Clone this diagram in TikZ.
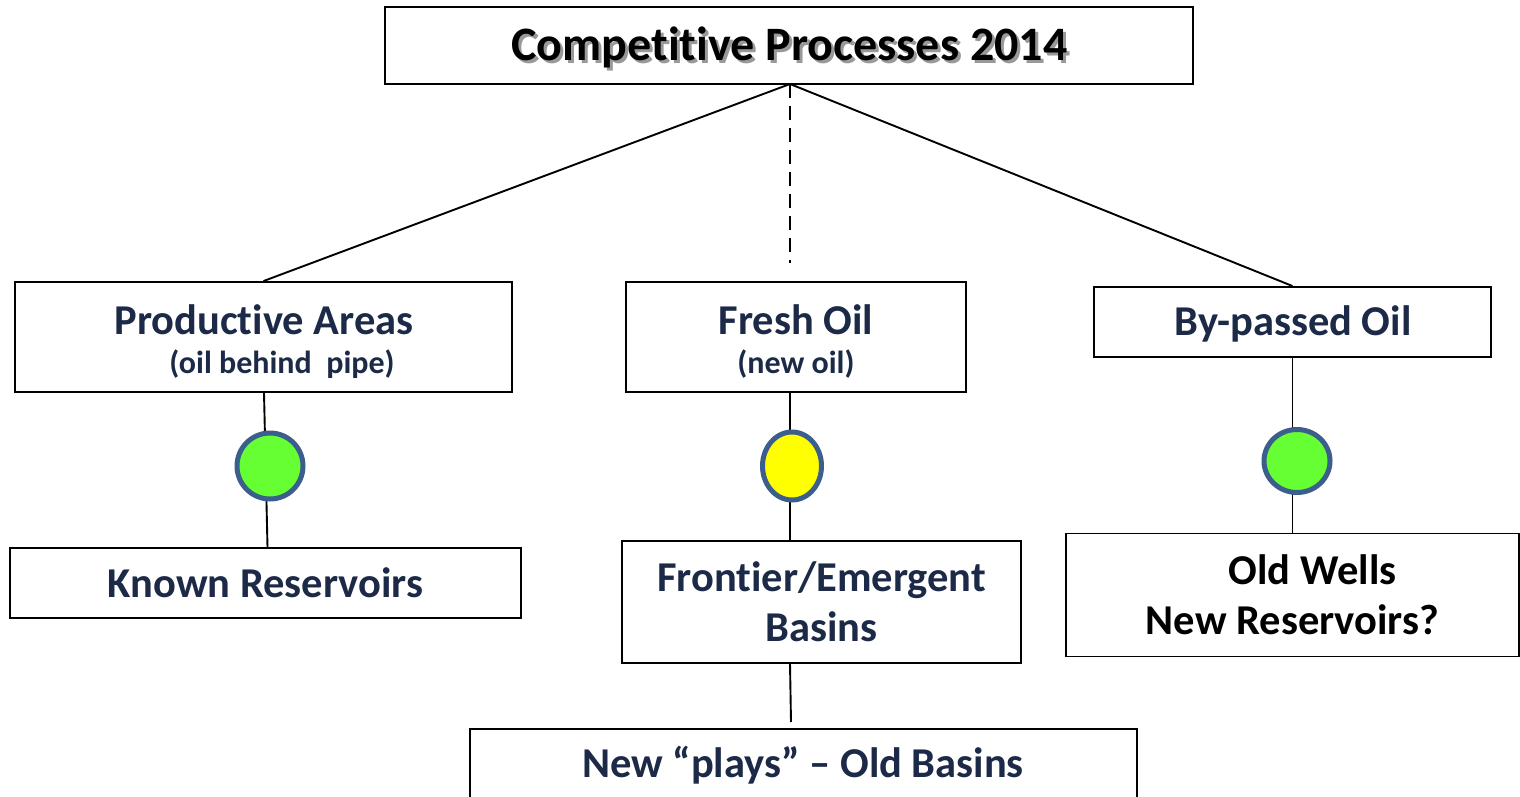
\documentclass[tikz,border=0pt]{standalone}
\usepackage{fontspec}
\setmainfont[Ligatures=NoCommon]{Carlito}
\usetikzlibrary{shapes.geometric}
\definecolor{navy}{HTML}{1C2A48}
\definecolor{ringblue}{HTML}{3B5E8C}
\definecolor{lightgreen}{HTML}{66FF33}
\definecolor{brightyellow}{HTML}{FFFF00}
\begin{document}
\begin{tikzpicture}[x=1pt,y=-1pt,
  bigfont/.style={font=\fontsize{42.5}{50}\selectfont\bfseries},
  box/.style={draw=black, line width=1.9pt, fill=white, inner sep=0pt, align=center,
    text=navy, bigfont},
  subtext/.style={font=\fontsize{32}{38}\selectfont\bfseries},
  link/.style={draw=black, line width=1.9pt},
  dot/.style={ellipse, draw=ringblue, line width=5pt, inner sep=0pt}
]
\useasboundingbox (0,0) rectangle (1520,797);

% top box with shadowed title
\node[box, minimum width=808pt, minimum height=77pt] (title) at (789,45.5) {};
\node[text=black!40, font=\fontsize{48}{54}\selectfont\bfseries] (titleshadow) at (792.5,50) {Competitive Processes 2014};
\node[text=black, font=\fontsize{48}{54}\selectfont\bfseries] (titletext) at (789.5,47) {Competitive Processes 2014};

% fixed ends of the connectors
\coordinate (hub) at (790,84);
\coordinate (dashend) at (790,263);
\coordinate (playtop) at (791,722);

% second row
\node[box, minimum width=497pt, minimum height=110pt] (prod) at (263.5,337) {};
\node[text=navy, bigfont] (prodtext) at (264,320) {Productive Areas};
\node[text=navy, subtext] (prodsub) at (282,364) {(oil behind\ \ pipe)};

\node[box, minimum width=340pt, minimum height=110pt] (fresh) at (796,337) {};
\node[text=navy, bigfont] (freshtext) at (796,320) {Fresh Oil};
\node[text=navy, subtext] (freshsub) at (796,364) {(new oil)};

\node[box, minimum width=397pt, minimum height=70pt] (bypass) at (1292.5,322) {};
\node[text=navy, bigfont] (bypasstext) at (1293,324) {By-passed Oil};

% third row
\node[box, minimum width=511pt, minimum height=70pt] (known) at (265.5,583) {Known Reservoirs};
\node[box, minimum width=399pt, minimum height=122pt] (frontier) at (821.5,602) {Frontier/Emergent\\Basins};
\node[box, minimum width=453pt, minimum height=123pt, text=black] (oldwells) at (1292.5,595) {\hspace*{40pt}Old Wells\\New Reservoirs?};

% bottom box, running past the lower edge
\node[box, minimum width=667pt, minimum height=110pt, anchor=north] (plays) at (803.5,728) {};
\node[text=navy, bigfont] (playstext) at (803,765) {New \textquotedblleft plays\textquotedblright\ \textendash\ Old Basins};

% connectors
\draw[link] (hub) -- (prod.north);
\draw[link] (hub) -- (bypass.north);
\draw[link, dash pattern=on 14pt off 8pt] (hub) -- (dashend);
\draw[link] ([xshift=0.5pt]prod.south) -- ([xshift=2pt]known.north);
\draw[link] (fresh.south -| hub) -- (frontier.north -| hub);
\draw[link] (frontier.south -| hub) -- (playtop);
\draw[link] (bypass.south) -- (oldwells.north -| bypass.south);

% status markers
\node[dot, fill=lightgreen, minimum width=66pt, minimum height=66pt] (mark1) at (270,466) {};
\node[dot, fill=brightyellow, minimum width=59pt, minimum height=68pt] (mark2) at (792,466) {};
\node[dot, fill=lightgreen, minimum width=66pt, minimum height=63pt] (mark3) at (1297,461) {};
\end{tikzpicture}
\end{document}
